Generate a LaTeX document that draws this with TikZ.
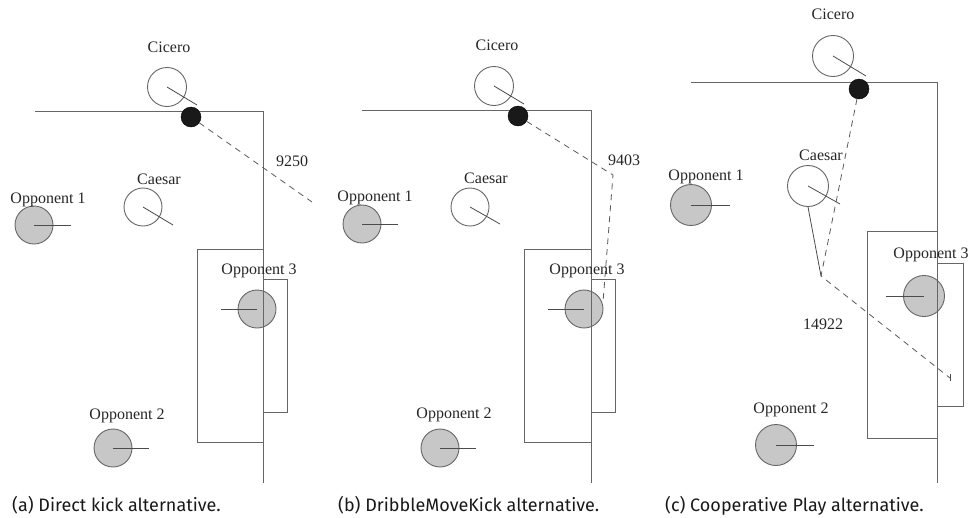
\documentclass[tikz,border=0pt]{standalone}
\usepackage{fontspec}
\setmainfont{Liberation Serif}
\newfontfamily\capfont{Fira Sans}
\begin{document}
\begin{tikzpicture}[x=1pt,y=-1pt,
  lab/.style={font=\fontsize{16}{18}\selectfont, anchor=base, inner sep=0pt, text=black!85},
  captxt/.style={font=\capfont\fontsize{18}{20}\selectfont, anchor=base west, inner sep=0pt, text=black!90},
  own/.style={circle, draw=black!60, line width=0.9pt, fill=white, minimum size=#1, inner sep=0pt},
  opp/.style={circle, draw=black!60, line width=0.9pt, fill=black!22, minimum size=#1, inner sep=0pt},
  ballst/.style={circle, fill=black!90, draw=black, minimum size=20pt, inner sep=0pt},
  fieldln/.style={draw=black!60, line width=0.9pt},
  headln/.style={draw=black!70, line width=0.8pt},
  kickln/.style={draw=black!65, line width=0.8pt, dash pattern=on 6pt off 5pt},
  passln/.style={draw=black!70, line width=0.8pt}]
\useasboundingbox (0,0) rectangle (973,517);

% ================= (a) =================
\node[own=39pt] (aCic) at (167,87) {};
\node[own=38pt] (aCae) at (143,207) {};
\node[opp=38pt] (aO1) at (34,225) {};
\node[opp=38pt] (aO3) at (257,309) {};
\node[opp=38pt] (aO2) at (113,448) {};
\coordinate (aCich) at (197,105);
\coordinate (aCaeh) at (173,225);
\coordinate (aO1h) at (71,225);
\coordinate (aO3h) at (221,309);
\coordinate (aO2h) at (149,448);
\draw[headln] (aCic.center) -- (aCich);
\draw[headln] (aCae.center) -- (aCaeh);
\draw[headln] (aO1.center) -- (aO1h);
\draw[headln] (aO3.center) -- (aO3h);
\draw[headln] (aO2.center) -- (aO2h);
\coordinate (aTL) at (35,111);
\coordinate (aTR) at (263,111);
\coordinate (aBot) at (263,483);
\draw[fieldln] (aTL) -- (aTR) -- (aBot);
\draw[fieldln] (263,249) -- (197,249) -- (197,442) -- (263,442);
\draw[fieldln] (263,279) -- (287,279) -- (287,412) -- (263,412);
\node[ballst] (aBall) at (191,117) {};
\coordinate (aT) at (312,202);
\draw[kickln] (aBall) -- (aT);
\node[lab] (aLCic) at (169,52) {Cicero};
\node[lab] (aLval) at (292,166) {9250};
\node[lab] (aLCae) at (159,184) {Caesar};
\node[lab] (aLO1) at (48,203) {Opponent 1};
\node[lab] (aLO3) at (259,274) {Opponent 3};
\node[lab] (aLO2) at (127,419) {Opponent 2};
\node[captxt] (aCap) at (12,511) {(a) Direct kick alternative.};

% ================= (b) =================
\node[own=39pt] (bCic) at (494,86) {};
\node[own=38pt] (bCae) at (470,207) {};
\node[opp=38pt] (bO1) at (362,224) {};
\node[opp=38pt] (bO3) at (584,309) {};
\node[opp=38pt] (bO2) at (440,448) {};
\coordinate (bCich) at (524,104);
\coordinate (bCaeh) at (500,224);
\coordinate (bO1h) at (398,224);
\coordinate (bO3h) at (548,309);
\coordinate (bO2h) at (476,448);
\draw[headln] (bCic.center) -- (bCich);
\draw[headln] (bCae.center) -- (bCaeh);
\draw[headln] (bO1.center) -- (bO1h);
\draw[headln] (bO3.center) -- (bO3h);
\draw[headln] (bO2.center) -- (bO2h);
\coordinate (bTL) at (362,110);
\coordinate (bTR) at (591,110);
\coordinate (bBot) at (591,483);
\draw[fieldln] (bTL) -- (bTR) -- (bBot);
\draw[fieldln] (591,249) -- (524,249) -- (524,442) -- (591,442);
\draw[fieldln] (591,279) -- (615,279) -- (615,412) -- (591,412);
\node[ballst] (bBall) at (518,116) {};
\coordinate (bM) at (613,175);
\coordinate (bT) at (603,302);
\draw[kickln] (bBall) -- (bM) -- (bT);
\node[lab] (bLCic) at (497,50) {Cicero};
\node[lab] (bLval) at (624,165) {9403};
\node[lab] (bLCae) at (486,183) {Caesar};
\node[lab] (bLO1) at (375,201) {Opponent 1};
\node[lab] (bLO3) at (587,274) {Opponent 3};
\node[lab] (bLO2) at (454,418) {Opponent 2};
\node[captxt] (bCap) at (338,511) {(b) DribbleMoveKick alternative.};

% ================= (c) =================
\node[own=41pt] (cCic) at (833,56) {};
\node[own=41pt] (cCae) at (808,186) {};
\node[opp=41pt] (cO1) at (691,205) {};
\node[opp=41pt] (cO3) at (924,296) {};
\node[opp=41pt] (cO2) at (776,445) {};
\coordinate (cCich) at (866,76);
\coordinate (cCaeh) at (840,204);
\coordinate (cO1h) at (730,205);
\coordinate (cO3h) at (886,296);
\coordinate (cO2h) at (814,445);
\draw[headln] (cCic.center) -- (cCich);
\draw[headln] (cCae.center) -- (cCaeh);
\draw[headln] (cO1.center) -- (cO1h);
\draw[headln] (cO3.center) -- (cO3h);
\draw[headln] (cO2.center) -- (cO2h);
\coordinate (cTL) at (691,82);
\coordinate (cTR) at (937,82);
\coordinate (cBot) at (937,483);
\draw[fieldln] (cTL) -- (cTR) -- (cBot);
\draw[fieldln] (937,231) -- (867,231) -- (867,438) -- (937,438);
\draw[fieldln] (937,263) -- (963,263) -- (963,406) -- (937,406);
\node[ballst] (cBall) at (859,89) {};
\coordinate (cP) at (821,276);
\coordinate (cT) at (950,378);
\draw[kickln] (cBall) -- (cP) -- (cT);
\draw[passln] (cCae.south) -- (cP);
\draw[passln] (950,374) -- (950,381);
\node[lab] (cLCic) at (833,19) {Cicero};
\node[lab] (cLCae) at (821,160) {Caesar};
\node[lab] (cLO1) at (706,180) {Opponent 1};
\node[lab] (cLO3) at (931,258) {Opponent 3};
\node[lab] (cLval) at (823,329) {14922};
\node[lab] (cLO2) at (791,413) {Opponent 2};
\node[captxt] (cCap) at (665,511) {(c) Cooperative Play alternative.};
\end{tikzpicture}
\end{document}
